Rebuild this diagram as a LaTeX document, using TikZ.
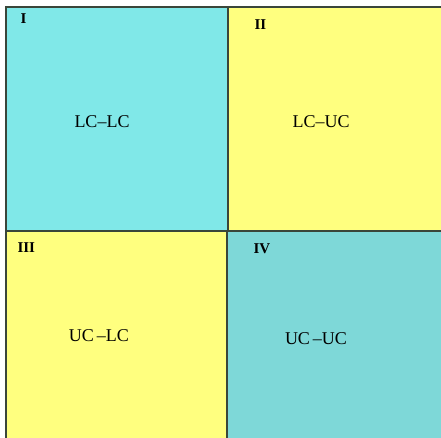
\documentclass[tikz,border=0pt]{standalone}
\usepackage{fontspec}
\setmainfont{Liberation Serif}
\usepackage{xcolor}
\usepackage{tikz}
\definecolor{cyanq}{HTML}{80E8E8}
\definecolor{yellowq}{HTML}{FFFF7F}
\definecolor{tealq}{HTML}{7ED8D8}
\definecolor{edge}{HTML}{3A463A}

\begin{document}
\begin{tikzpicture}[x=1pt,y=1pt, every node/.style={font=\fontsize{18}{20}\selectfont}, quad/.style={draw=edge,line width=1.3pt}, num/.style={anchor=west,font=\fontsize{15}{17}\selectfont\bfseries}]
\useasboundingbox (0,0) rectangle (441,437);
\clip (0,0) rectangle (441,437);
\fill[white] (0,0) rectangle (441,437);
% quadrants
\filldraw[quad,fill=cyanq] (6,206) rectangle (228,430);
\filldraw[quad,fill=yellowq] (228,206) rectangle (460,430);
\filldraw[quad,fill=yellowq] (6,-20) rectangle (227,206);
\filldraw[quad,fill=tealq] (227,-20) rectangle (460,206);
% labels
\node[num] (q1) at (17,418) {I};
\node[num] (q2) at (251,412) {II};
\node[num] (q3) at (14,189) {III};
\node[num] (q4) at (250,188) {IV};
\node (ll) at (102,315) {LC--LC};
\node (lu) at (321,315) {LC--UC};
\node (ul) at (99,101) {UC\,--LC};
\node (uu) at (316,98) {UC\,--UC};
\end{tikzpicture}
\end{document}
